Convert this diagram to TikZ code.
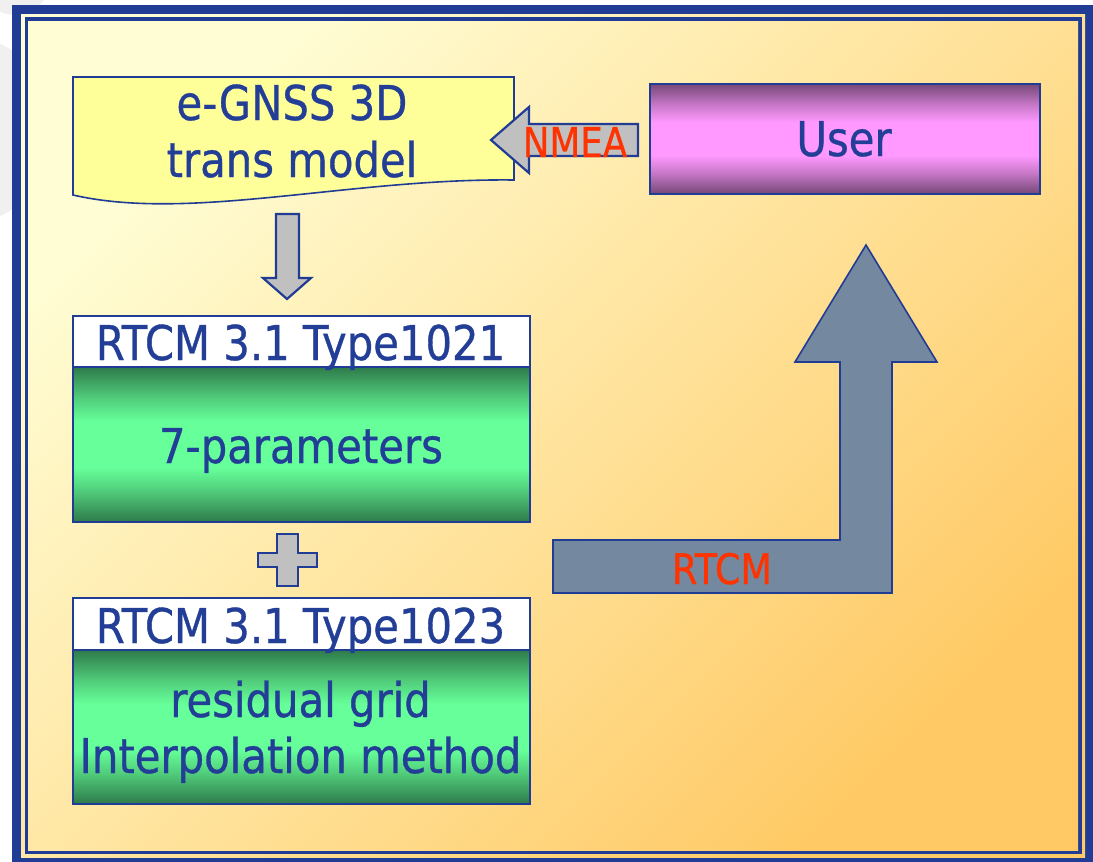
\documentclass[tikz,border=0pt]{standalone}
\usepackage{fontspec}
\setmainfont{DejaVu Sans}[FakeStretch=0.87,FakeBold=0.7]
\definecolor{frameblue}{RGB}{33,60,148}
\definecolor{inkblue}{RGB}{35,62,150}
\definecolor{labelred}{RGB}{255,51,0}
\definecolor{docyellow}{RGB}{255,255,153}
\definecolor{arrowgray}{RGB}{192,192,192}
\definecolor{slate}{RGB}{116,137,160}
\definecolor{greendark}{RGB}{46,122,74}
\definecolor{greenlight}{RGB}{102,255,153}
\definecolor{plumdark}{RGB}{118,72,120}
\definecolor{pinklight}{RGB}{255,153,255}
\definecolor{palecream}{RGB}{255,253,212}
\definecolor{warmgold}{RGB}{255,202,102}
% bands: dark edges easing into a bright middle
\pgfdeclareverticalshading{greenband}{100bp}{color(0bp)=(greendark); color(25bp)=(greendark);
  color(29bp)=(greenlight!25!greendark); color(35bp)=(greenlight!62!greendark);
  color(42.5bp)=(greenlight); color(57.5bp)=(greenlight);
  color(65bp)=(greenlight!62!greendark); color(71bp)=(greenlight!25!greendark);
  color(75bp)=(greendark); color(100bp)=(greendark)}
\pgfdeclareverticalshading{pinkband}{100bp}{color(0bp)=(plumdark); color(25bp)=(plumdark);
  color(29bp)=(pinklight!25!plumdark); color(35bp)=(pinklight!62!plumdark);
  color(42.5bp)=(pinklight); color(57.5bp)=(pinklight);
  color(65bp)=(pinklight!62!plumdark); color(71bp)=(pinklight!25!plumdark);
  color(75bp)=(plumdark); color(100bp)=(plumdark)}
\begin{document}
\begin{tikzpicture}[x=1pt,y=-1pt,
  outline/.style={draw=frameblue,line width=1.6pt},
  blockarrow/.style={fill=arrowgray,draw=frameblue,line width=2.2pt,line join=miter},
  headerbox/.style={outline,fill=white,minimum width=457pt,anchor=north west,inner sep=0pt},
  greenbox/.style={outline,shading=greenband,minimum width=457pt,anchor=north west,inner sep=0pt},
  bigtext/.style={text=inkblue,font=\fontsize{48}{57}\selectfont,inner sep=0pt,anchor=base},
  redtext/.style={text=labelred,font=\fontsize{42}{50}\selectfont,inner sep=0pt,anchor=base},
]
\useasboundingbox (0,0) rectangle (1093,862);

% faint slide background behind the frame
\fill[gray!12] (15,-20) circle (35);
\fill[gray!12] (-40,130) circle (95);

% double frame with the warm gradient panel
\fill[frameblue] (12,5) rectangle (1093,862);
\shade[top color=palecream,bottom color=warmgold,shading angle=45] (21,14) rectangle (1085,857);
\fill[frameblue] (25,17) rectangle (1082,854);
\shade[top color=palecream,bottom color=warmgold,shading angle=45] (28,21) rectangle (1078,850);

% document shape with wavy bottom
\path[fill=docyellow,outline] (73,77) -- (514,77) -- (514,180)
  .. controls (350,178) and (190,222) .. (73,195) -- cycle;
\node[bigtext] (docA) at (292,120) {e-GNSS 3D};
\node[bigtext] (docB) at (292,177) {trans model};

% user box
\node[outline,shading=pinkband,minimum width=390pt,minimum height=110pt,inner sep=0pt,
  anchor=north west] (user) at (649,83) {};
\node[bigtext] (usertxt) at (844,156) {User};

% NMEA arrow from the user box to the model
\coordinate (nmeatip) at (491,140);
\path[blockarrow] (nmeatip) -- (529,107) -- (529,124) -- (638,124) -- (638,156)
  -- (529,156) -- (529,173) -- cycle;
\node[redtext,font=\fontsize{41}{49}\selectfont] (nmea) at (575,157) {NMEA};

% down arrow from the model to the message blocks
\coordinate (downtip) at (287,299);
\path[blockarrow] (276,214) -- (299,214) -- (299,278) -- (311,278) -- (downtip)
  -- (263,278) -- (276,278) -- cycle;

% RTCM Type1021 block
\node[headerbox,minimum height=51pt] (hdrA) at (72,315) {};
\node[greenbox,minimum height=155pt] (paramA) at (72,366) {};
\node[bigtext] (hdrAtxt) at (300.5,360) {RTCM 3.1 Type1021};
\node[bigtext] (paramAtxt) at (301,463) {7-parameters};

% plus sign
\path[blockarrow,line width=2.6pt] (277,534) -- (298,534) -- (298,553) -- (317,553) -- (317,567)
  -- (298,567) -- (298,586) -- (277,586) -- (277,567) -- (258,567) -- (258,553)
  -- (277,553) -- cycle;

% RTCM Type1023 block
\node[headerbox,minimum height=52pt] (hdrB) at (72,597) {};
\node[greenbox,minimum height=154pt] (paramB) at (72,649) {};
\node[bigtext] (hdrBtxt) at (300.5,643) {RTCM 3.1 Type1023};
\node[bigtext] (gridA) at (300.5,717) {residual grid};
\node[bigtext] (gridB) at (300.5,773) {Interpolation method};

% bent RTCM arrow up to the user box
\coordinate (rtcmtip) at (866,245);
\path[fill=slate,outline,line join=miter] (553,540) -- (840,540) -- (840,362) -- (795,362)
  -- (rtcmtip) -- (937,362) -- (892,362) -- (892,593) -- (553,593) -- cycle;
\node[redtext] (rtcm) at (722,584) {RTCM};
\end{tikzpicture}
\end{document}
